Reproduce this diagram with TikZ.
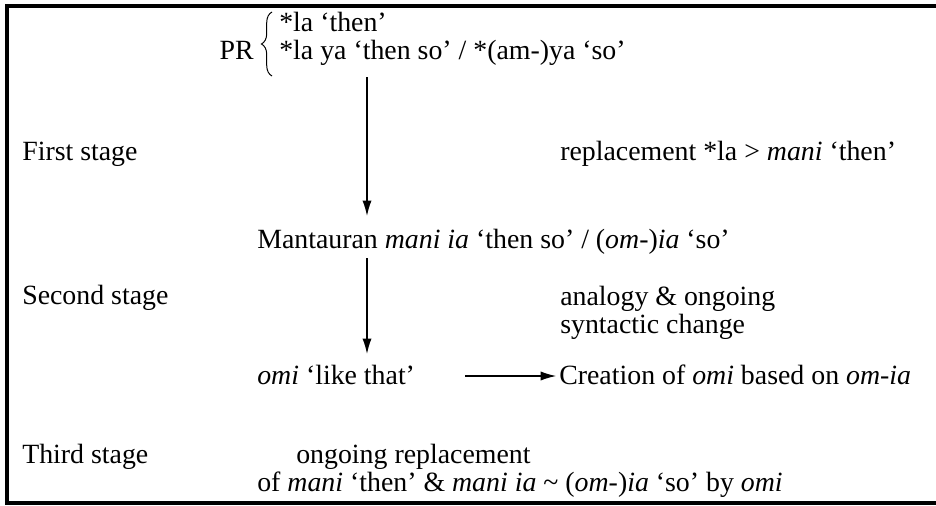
\documentclass[tikz,border=0pt]{standalone}
\usepackage{fontspec}
\setmainfont{Liberation Serif}
\usetikzlibrary{positioning, arrows.meta, calc, decorations.pathreplacing}
\tikzset{every node/.append style={execute at begin node={\hyphenpenalty=10000\exhyphenpenalty=10000\relax}}}
\tikzset{
  txt/.style={anchor=base west, inner sep=0pt},
  flow/.style={-{Latex[length=11pt, width=6.5pt]}, line width=0.9pt}
}

\begin{document}
\begin{tikzpicture}[x=0.025cm, y=-0.025cm, font=\fontsize{19.8}{22}\selectfont]
  \useasboundingbox (0,0) rectangle (936,506);
  % frame, open at the right
  \draw[line width=2.2pt] (936,6) -- (7,6) -- (7,503) -- (936,503);
  % PR reconstruction
  \node[txt] (la) at (279,31) {*la ‘then’};
  \node[txt] (laya) at (279,59) {*la ya ‘then so’ / *(am-)ya ‘so’};
  \node[anchor=base east, inner sep=0pt] (pr) at (254,59) {PR};
  \draw[decorate, decoration={brace, amplitude=7.5pt}, line width=0.7pt] (272,76) -- (272,12);
  % stages
  \node[txt] (st1) at (22,160) {First stage};
  \node[txt] (rep) at (560,160) {replacement *la > \textit{mani} ‘then’};
  \node[txt] (mant) at (257,248) {Mantauran \textit{mani ia} ‘then so’ / (\textit{om}-)\textit{ia} ‘so’};
  \node[txt] (st2) at (22,304) {Second stage};
  \node[txt] (ana) at (560,305) {analogy \& ongoing};
  \node[txt] (syn) at (560,333) {syntactic change};
  \node[txt] (omi) at (257,384) {\textit{omi} ‘like that’};
  \node[txt] (crea) at (559,384) {Creation of \textit{omi} based on \textit{om-ia}};
  \node[txt] (st3) at (22,463) {Third stage};
  \node[txt] (ong) at (296,463) {ongoing replacement};
  \node[txt] (repl) at (257,491) {of \textit{mani} ‘then’ \& \textit{mani ia} \textasciitilde{} (\textit{om}-)\textit{ia} ‘so’ by \textit{omi}};
  % arrows
  \coordinate (a1) at (367,77);
  \coordinate (a2) at (367,258);
  \coordinate (h1) at (465,376);
  \draw[flow] (a1) -- (a1 |- 0,216);
  \draw[flow] (a2) -- (a2 |- 0,354);
  \draw[flow, shorten >=2pt] (h1) -- (crea.west |- h1);
\end{tikzpicture}
\end{document}
